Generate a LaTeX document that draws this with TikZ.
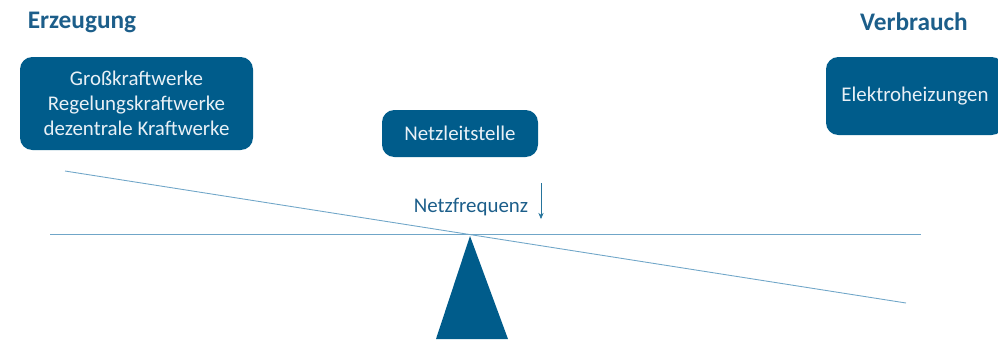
\documentclass[tikz,border=0pt]{standalone}
\usepackage{fontspec}
\setmainfont{Carlito}
\usepackage{xcolor}
\usetikzlibrary{arrows.meta}

\definecolor{boxblue}{RGB}{0,92,139}
\definecolor{titleblue}{RGB}{28,94,138}
\definecolor{lineblue}{RGB}{112,166,200}
\definecolor{boxtext}{RGB}{232,240,246}

\begin{document}
\begin{tikzpicture}[x=0.02cm,y=-0.02cm]
%style for titles
\tikzstyle{title} = [font=\fontsize{14.4}{17}\selectfont\bfseries, text=titleblue]

%style for blue boxes
\tikzstyle{bluebox} = [rectangle, rounded corners=7pt, fill=boxblue, text=boxtext, align=center, font=\fontsize{11.9}{14.2}\selectfont]

%style for the beams
\tikzstyle{beam} = [draw=lineblue, line width=0.5pt]

\useasboundingbox (0,0) rectangle (998,339);

%place nodes
\node[title](erzeugung) at (82,22) {Erzeugung};
\node[title](verbrauch) at (914,22) {Verbrauch};
\node[bluebox, minimum width=233*0.02cm, minimum height=93*0.02cm](kraftwerke) at (136.5,103.5) {Großkraftwerke\\Regelungskraftwerke\\dezentrale Kraftwerke};
\node[bluebox, minimum width=156*0.02cm, minimum height=47*0.02cm](netzleitstelle) at (460,133.5) {Netzleitstelle};
\node[bluebox, minimum width=178*0.02cm, minimum height=78*0.02cm](heizungen) at (915,96) {Elektroheizungen};
\node[font=\fontsize{11.9}{14.2}\selectfont, text=titleblue](frequenz) at (471,207) {Netzfrequenz};

%coordinates of the scale
\coordinate (pivot) at (470,234);
\coordinate (levelL) at (50,234);
\coordinate (levelR) at (921,234);
\coordinate (tiltL) at (65,171);
\coordinate (tiltR) at (906,303);
\coordinate (arrowTop) at (541,183);
\coordinate (arrowEnd) at (541,219);

%the scale
\draw[beam] (levelL) -- (levelR);
\draw[beam] (tiltL) -- (tiltR);
\fill[boxblue] (pivot) ++(0,2) -- (508,339) -- (436,339) -- cycle;

% arrow beside the frequency
\draw[-{Stealth[length=3.5pt,width=3pt]}, draw=boxblue!85, line width=0.4pt] (arrowTop) -- (arrowEnd);
\end{tikzpicture}
\end{document}
